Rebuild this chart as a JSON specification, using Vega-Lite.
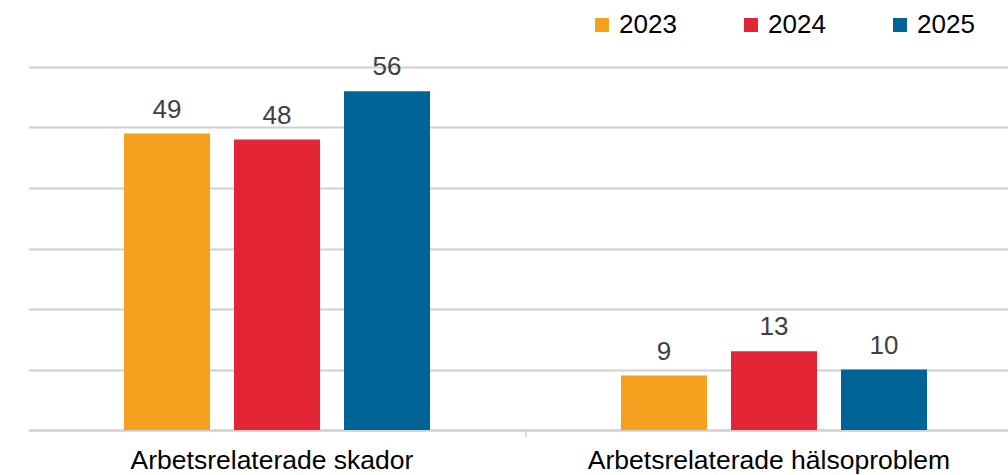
{
  "$schema": "https://vega.github.io/schema/vega-lite/v6.json",
  "autosize": {"type": "none"},
  "padding": {"left": 28.5, "top": 67, "right": 0, "bottom": 45},
  "width": 979,
  "height": 363,
  "background": "white",
  "config": {"view": {"stroke": null}, "font": "Liberation Sans"},
  "data": {"values": [
    {"kategori": "Arbetsrelaterade skador", "ar": "2023", "antal": 49},
    {"kategori": "Arbetsrelaterade skador", "ar": "2024", "antal": 48},
    {"kategori": "Arbetsrelaterade skador", "ar": "2025", "antal": 56},
    {"kategori": "Arbetsrelaterade hälsoproblem", "ar": "2023", "antal": 9},
    {"kategori": "Arbetsrelaterade hälsoproblem", "ar": "2024", "antal": 13},
    {"kategori": "Arbetsrelaterade hälsoproblem", "ar": "2025", "antal": 10}
  ]},
  "encoding": {
    "x": {
      "field": "kategori", "type": "nominal", "sort": null,
      "scale": {"range": [0, 994], "paddingInner": 0, "paddingOuter": 0},
      "axis": {
        "title": null, "grid": false,
        "domainColor": "#d0d0d0", "domainWidth": 2,
        "ticks": true, "tickColor": "#d0d0d0", "tickSize": 7, "tickWidth": 1.5,
        "bandPosition": 0,
        "tickOpacity": {"condition": {"test": "datum.value === 'Arbetsrelaterade skador'", "value": 0}, "value": 1},
        "labelFontSize": 26.5, "labelColor": "#000000", "labelAngle": 0, "labelLimit": 0,
        "labelBaseline": "alphabetic", "labelPadding": 31, "labelOffset": -5
      }
    },
    "xOffset": {"field": "ar", "type": "nominal", "scale": {"paddingInner": 0.218, "paddingOuter": 0.868}},
    "y": {
      "field": "antal", "type": "quantitative",
      "scale": {"domain": [0, 60], "nice": false},
      "axis": {
        "title": null, "labels": false, "ticks": false, "domain": false,
        "grid": true, "gridColor": "#d0d0d0", "gridWidth": 2,
        "values": [0, 10, 20, 30, 40, 50, 60]
      }
    }
  },
  "layer": [
    {
      "mark": {"type": "bar"},
      "encoding": {
        "color": {
          "field": "ar", "type": "nominal",
          "scale": {"domain": ["2023", "2024", "2025"], "range": ["#F5A01E", "#E42535", "#006496"]},
          "legend": {
            "title": null, "orient": "none", "legendX": 560.5, "legendY": -55,
            "direction": "horizontal", "symbolType": "square", "symbolSize": 196,
            "symbolStrokeWidth": 0, "symbolOpacity": 1,
            "labelFontSize": 26, "labelColor": "#000000", "labelOffset": 4,
            "columnPadding": 61
          }
        }
      }
    },
    {
      "mark": {"type": "text", "dy": -16, "baseline": "alphabetic", "fontSize": 26, "color": "#404040"},
      "encoding": {"text": {"field": "antal", "type": "quantitative"}}
    }
  ]
}
